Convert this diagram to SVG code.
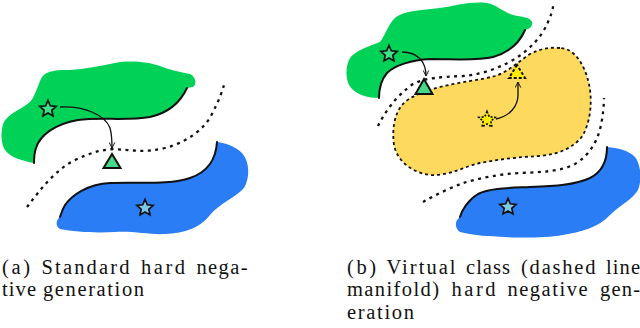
<svg xmlns="http://www.w3.org/2000/svg" width="640" height="328" viewBox="0 0 640 328">
<style>
.green{fill:#00d157;stroke:none}
.blue{fill:#2a7df4;stroke:none}
.yellow{fill:#fdd95e;stroke:#111;stroke-width:1.8;stroke-dasharray:3 3}
.edge{fill:none;stroke:#111;stroke-width:2;stroke-linecap:round}
.dots{fill:none;stroke:#111;stroke-width:2.3;stroke-dasharray:3 4.5}
.arrow{fill:none;stroke:#111;stroke-width:1.3;marker-end:url(#ah)}
.star{stroke:#111;stroke-width:1.7;stroke-linejoin:miter}
.tri{stroke:#111;stroke-width:2;stroke-linejoin:miter}
.cap{font-family:"Liberation Serif","DejaVu Serif","Times New Roman",serif;font-size:20.5px;fill:#111}
</style>
<defs>
<marker id="ah" viewBox="0 0 10 10" refX="9" refY="5" markerWidth="7" markerHeight="7" orient="auto" markerUnits="userSpaceOnUse">
<path d="M1,1 L9,5 L1,9" fill="none" stroke="#111" stroke-width="1.4"/>
</marker>
<path id="starshape" d="M0,-8.5 L2.3,-3.2 L8.1,-2.6 L3.8,1.3 L5,6.9 L0,4 L-5,6.9 L-3.8,1.3 L-8.1,-2.6 L-2.3,-3.2 Z"/>
</defs>

<!-- Panel (a) -->
<g id="a-green-class">
<path class="green" d="M187,88 C180,103 168,113 150,117 C128,121 100,117 78,120 C55,124 40,135 36,148 C34,154 34,160 34,163 C22,161 10,157 5,150 C0,142 1,128 4,122 C8,114 20,110 30,102 C36,95 38,84 42,77 C47,70 58,70 70,70 C85,69 100,66 115,63 C130,60 148,62 160,66 C170,70 180,72 190,74 C196,77 197,84 193,87 Z"/>
<path class="edge" d="M187,88 C180,103 168,113 150,117 C128,121 100,117 78,120 C55,124 40,135 36,148 C34,154 34,160 34,163"/>
</g>
<g id="a-blue-class">
<path class="blue" d="M217,142 C216,158 208,172 190,178 C170,185 140,182 110,183 C88,184 72,195 65,205 C62,210 61,214 60,217 C56,220 55,226 60,229 C75,232 95,233 115,232 C135,231 150,235 165,234 C185,233 200,228 210,215 C220,203 235,198 244,188 C250,178 250,162 242,153 C235,146 225,143 217,142 Z"/>
<path class="edge" d="M217,142 C216,158 208,172 190,178 C170,185 140,182 110,183 C88,184 72,195 65,205 C62,210 61,214 60,217"/>
</g>
<g id="a-boundary">
<path class="dots" d="M27,207 C40,190 55,170 75,160 C90,153 100,150 113,149 C130,150 145,153 165,148 C185,143 205,130 213,112 C219,100 222,92 224,85"/>
</g>
<g id="a-green-star"><use href="#starshape" class="star" fill="#3de28a" transform="translate(48,109)"/></g>
<g id="a-blue-star"><use href="#starshape" class="star" fill="#7fc9e8" transform="translate(145,208)"/></g>
<g id="a-negative"><polygon class="tri" fill="#45d98a" points="112,154 103.5,168 120.5,168"/></g>

<!-- Panel (b) -->
<g id="b-green-class">
<path class="green" d="M525,30 C520,42 510,52 493,57 C478,61 455,59 430,59 C412,60 395,65 387,73 C381,80 379,90 379,98 C368,98 355,95 349,85 C345,76 346,65 350,58 C356,50 370,46 380,42 C386,34 388,24 396,17 C405,11 420,10 440,8 C455,6 470,1 487,3 C497,5 503,12 513,15 C522,17 530,17 532,22 C533,26 530,29 525,30 Z"/>
<path class="edge" d="M525,30 C520,42 510,52 493,57 C478,61 455,59 430,59 C412,60 395,65 387,73 C381,80 379,90 379,98"/>
</g>
<g id="b-virtual-class">
<path class="yellow" d="M560,48 C548,47 540,49 530,54 C518,62 508,72 495,76 C480,80 460,82 440,87 C425,91 410,96 402,105 C394,115 392,130 394,145 C397,160 410,172 430,175 C450,176 465,166 480,163 C500,159 520,157 540,156 C560,154 575,147 583,135 C590,122 592,105 590,90 C588,75 582,62 575,55 C570,50 565,48 560,48 Z"/>
</g>
<g id="b-blue-class">
<path class="blue" d="M607,147 C607,160 602,172 590,178 C575,185 555,186 530,187 C510,188 490,188 478,194 C468,200 462,210 460,217 C455,220 454,228 460,232 C475,236 490,236 505,237 C520,238 545,238 563,235 C580,232 598,228 610,215 C620,205 632,200 638,190 C642,180 641,165 635,157 C628,150 618,148 607,147 Z"/>
<path class="edge" d="M607,147 C607,160 602,172 590,178 C575,185 555,186 530,187 C510,188 490,188 478,194 C468,200 462,210 460,217"/>
</g>
<g id="b-boundaries">
<path class="dots" d="M378,126 C385,112 395,97 413,84 C425,78 440,77 463,76 C478,75 495,70 513,60 C530,50 543,35 548,22 C551,15 553,10 553,6"/>
<path class="dots" d="M423,202 C435,195 450,188 463,183 C480,178 500,174 520,173 C540,172 560,172 575,164 C590,155 598,140 601,125 C603,115 604,105 604,98"/>
</g>
<g id="b-green-star"><use href="#starshape" class="star" fill="#3de28a" transform="translate(389,54)"/></g>
<g id="b-yellow-star"><use href="#starshape" class="star" fill="#ffee00" stroke-dasharray="2 1.5" transform="translate(487,120)"/></g>
<g id="b-blue-star"><use href="#starshape" class="star" fill="#7fc9e8" transform="translate(508,207)"/></g>
<g id="b-negative"><polygon class="tri" fill="#45d98a" points="424,79 415.5,94 432.5,94"/></g>
<g id="b-virtual-negative"><polygon class="tri" fill="#ffee00" stroke-width="1.6" stroke-dasharray="3 2" points="517,65 509,78 525,78"/></g>

<g id="connectors">
<path class="arrow" d="M60,107 C85,106 105,115 110,128 C112,135 112,142 112,148"/>
<path class="arrow" d="M402,52 C418,52 426,62 426,76"/>
<path class="arrow" d="M496,119 C510,116 518,106 518,95 C518,90 518,86 518,82"/>
</g>

<g id="caption-a" class="cap">
<text x="2" y="273.5" textLength="28">(a)</text>
<text x="41.5" y="273.5" textLength="88">Standard</text>
<text x="141" y="273.5" textLength="44">hard</text>
<text x="196.5" y="273.5" textLength="51">nega-</text>
<text x="2" y="296" textLength="34">tive</text>
<text x="43" y="296" textLength="101">generation</text>
</g>
<g id="caption-b" class="cap">
<text x="347" y="273.5" textLength="29">(b)</text>
<text x="386.5" y="273.5" textLength="69">Virtual</text>
<text x="466" y="273.5" textLength="44">class</text>
<text x="521" y="273.5" textLength="74.5">(dashed</text>
<text x="606" y="273.5" textLength="34">line</text>
<text x="347" y="296" textLength="92">manifold)</text>
<text x="451.5" y="296" textLength="44">hard</text>
<text x="507.5" y="296" textLength="80">negative</text>
<text x="600" y="296" textLength="40">gen-</text>
<text x="347" y="318.5" textLength="67">eration</text>
</g>
</svg>
